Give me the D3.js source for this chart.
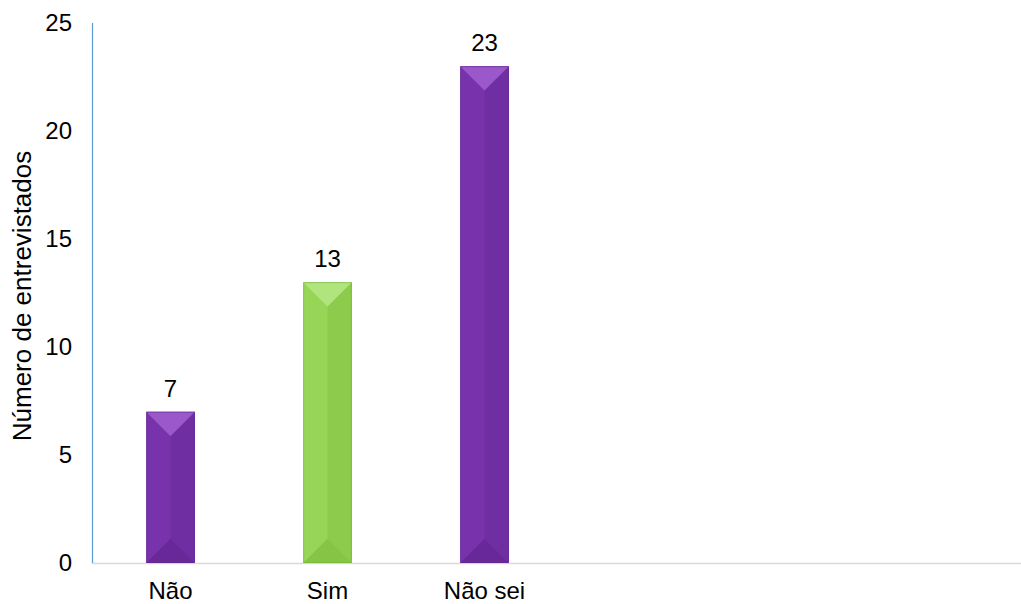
<!DOCTYPE html>
<html>
<head>
<meta charset="utf-8">
<script src="https://cdn.jsdelivr.net/npm/d3@7"></script>
<style>
  html, body { margin: 0; padding: 0; background: #ffffff; }
  svg { display: block; }
  text { font-family: "Liberation Sans", Arial, sans-serif; fill: #000; }
</style>
</head>
<body>
<svg id="chart" width="1021" height="604"></svg>
<script>
// Survey answers and the number of respondents for each
const categories = ["Não", "Sim", "Não sei"];
const counts = [7, 13, 23];
const barColors = ["purple", "green", "purple"];
const yTicks = [0, 5, 10, 15, 20, 25];
const yTitle = "Número de entrevistados";

// Facet shades for the bevelled bars: top, left, right, bottom, edge
const shades = {
  purple: { top: "#9a58cb", left: "#7833ac", right: "#6f2ea2", bottom: "#692898", edge: "#5e248c" },
  green:  { top: "#b0e47c", left: "#96d556", right: "#8dcb4c", bottom: "#86c446", edge: "#72ad3c" }
};

const svg = d3.select("#chart");
const axisX = 92, baseY = 563, rightX = 1021;

const x = d3.scaleBand()
  .domain(categories)
  .range([axisX, axisX + 157 * categories.length])
  .paddingInner(0.69)
  .paddingOuter(0.345);

const y = d3.scaleLinear().domain([0, 25]).range([baseY, 23]);

// Baseline across the plot
svg.append("line")
  .attr("x1", axisX).attr("x2", rightX)
  .attr("y1", baseY + 0.5).attr("y2", baseY + 0.5)
  .attr("stroke", "#d9d9d9").attr("stroke-width", 1.5);

// Vertical axis line
svg.append("line")
  .attr("x1", axisX + 0.5).attr("x2", axisX + 0.5)
  .attr("y1", y(25)).attr("y2", baseY)
  .attr("stroke", "#5b9bd5").attr("stroke-width", 1.2);

// Y tick labels
svg.append("g").selectAll("text")
  .data(yTicks)
  .join("text")
  .attr("x", axisX - 20)
  .attr("y", d => y(d))
  .attr("dy", "0.35em")
  .attr("text-anchor", "end")
  .attr("font-size", 24)
  .text(d => d);

// Y axis title
svg.append("text")
  .attr("transform", `translate(31, ${(y(25) + baseY) / 2 + 3}) rotate(-90)`)
  .attr("text-anchor", "middle")
  .attr("font-size", 26)
  .text(yTitle);

// Bars drawn as bevel facets over a solid base
const bars = svg.append("g").selectAll("g")
  .data(categories.map((c, i) => ({ c, v: counts[i], col: shades[barColors[i]] })))
  .join("g");

bars.each(function (d) {
  const g = d3.select(this);
  const x0 = x(d.c), x1 = x0 + x.bandwidth(), xc = (x0 + x1) / 2;
  const y0 = y(d.v), y1 = y(0);
  const b = x.bandwidth() / 2;
  const pts = arr => arr.map(p => p.join(",")).join(" ");
  g.append("rect")
    .attr("x", x0).attr("y", y0)
    .attr("width", x.bandwidth()).attr("height", y1 - y0)
    .attr("fill", d.col.left);
  g.append("polygon").attr("points", pts([[x1, y0], [xc, y0 + b], [xc, y1 - b], [x1, y1]])).attr("fill", d.col.right);
  g.append("polygon").attr("points", pts([[x0, y1], [x1, y1], [xc, y1 - b]])).attr("fill", d.col.bottom);
  g.append("polygon").attr("points", pts([[x0, y0], [x1, y0], [xc, y0 + b]])).attr("fill", d.col.top);
  g.append("rect")
    .attr("x", x0 + 0.5).attr("y", y0 + 0.5)
    .attr("width", x.bandwidth() - 1).attr("height", y1 - y0 - 1)
    .attr("fill", "none").attr("stroke", d.col.edge).attr("stroke-width", 1).attr("stroke-opacity", 0.5);
});

// Value labels above the bars
svg.append("g").selectAll("text")
  .data(categories.map((c, i) => ({ c, v: counts[i] })))
  .join("text")
  .attr("x", d => x(d.c) + x.bandwidth() / 2)
  .attr("y", d => y(d.v) - 15)
  .attr("text-anchor", "middle")
  .attr("font-size", 24)
  .text(d => d.v);

// Category labels
svg.append("g").selectAll("text")
  .data(categories)
  .join("text")
  .attr("x", d => x(d) + x.bandwidth() / 2)
  .attr("y", 599)
  .attr("text-anchor", "middle")
  .attr("font-size", 24)
  .text(d => d);
</script>
</body>
</html>
